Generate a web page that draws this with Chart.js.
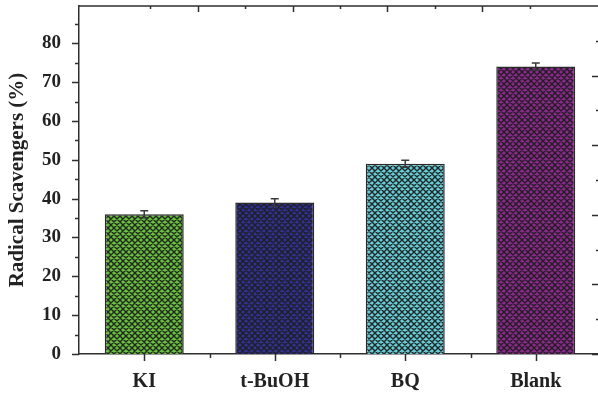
<!DOCTYPE html>
<html>
<head>
<meta charset="utf-8">
<script src="https://cdn.jsdelivr.net/npm/chart.js@4.4.1/dist/chart.umd.min.js"></script>
<style>
  html, body { margin: 0; padding: 0; background: #fff; overflow: hidden; width: 598px; height: 394px; }
  #wrap { width: 604px; height: 394px; }
</style>
</head>
<body>
<div id="wrap"><canvas id="c" width="604" height="394"></canvas></div>
<script>
const categories = ['KI', 't-BuOH', 'BQ', 'Blank'];
const values = [36, 39, 49, 74];
const errors = [0.9, 1.0, 0.9, 0.9];
const yTickValues = [0, 10, 20, 30, 40, 50, 60, 70, 80];
const barColors = ['#68c03c', '#30308f', '#66cdd6', '#8a288c'];
const yTitle = 'Radical Scavengers (%)';

const FONT = '"Liberation Serif", "DejaVu Serif", serif';
const AXIS = '#2f2f2f';

function hatch(color) {
  const size = 12;
  const c = document.createElement('canvas');
  c.width = size; c.height = size;
  const g = c.getContext('2d');
  g.fillStyle = color;
  g.fillRect(0, 0, size, size);
  g.strokeStyle = 'rgba(30,30,30,0.95)';
  g.lineWidth = 1.4;
  const p = 6;
  g.beginPath();
  for (let k = -4; k <= 6; k++) {
    const o = k * p;
    g.moveTo(o - 1, -1); g.lineTo(o + size + 1, size + 1);
    g.moveTo(o + size + 1, -1); g.lineTo(o - 1, size + 1);
  }
  g.stroke();
  return g.createPattern(c, 'repeat');
}

const frame = {
  id: 'frame',
  afterDatasetsDraw(chart) {
    const ctx = chart.ctx;
    const ys = chart.scales.y;
    const ds = chart.data.datasets[0];
    const meta = chart.getDatasetMeta(0);
    ctx.save();
    ctx.strokeStyle = '#3a3a3a';
    ctx.lineWidth = 1.5;
    meta.data.forEach((bar, i) => {
      const v = ds.data[i], e = errors[i];
      const yt = ys.getPixelForValue(v + e), yb = ys.getPixelForValue(v - e);
      ctx.beginPath();
      ctx.moveTo(bar.x, yt); ctx.lineTo(bar.x, yb);
      ctx.moveTo(bar.x - 4, yt); ctx.lineTo(bar.x + 4, yt);
      ctx.moveTo(bar.x - 4, yb); ctx.lineTo(bar.x + 4, yb);
      ctx.stroke();
    });
    ctx.restore();
  },
  afterDraw(chart) {
    const ctx = chart.ctx;
    const a = chart.chartArea;
    const ys = chart.scales.y, xs = chart.scales.x;
    const xt = chart.scales.xTop, yr = chart.scales.yRight;
    ctx.save();
    ctx.strokeStyle = AXIS;
    ctx.lineWidth = 1.5;
    ctx.beginPath();
    ctx.moveTo(a.left, a.top); ctx.lineTo(a.right, a.top);
    ctx.moveTo(a.right, a.top); ctx.lineTo(a.right, a.bottom);
    for (let v = 0; v <= 85; v += 5) {
      const y = Math.round(ys.getPixelForValue(v)) + 0.5;
      const len = v % 10 === 0 ? 7 : 4;
      ctx.moveTo(a.left - len, y); ctx.lineTo(a.left, y);
    }
    for (let i = 0; i < categories.length; i++) {
      const x = Math.round(xs.getPixelForValue(i)) + 0.5;
      ctx.moveTo(x, a.bottom); ctx.lineTo(x, a.bottom + 7);
      if (i < categories.length - 1) {
        const xm = Math.round(xs.getPixelForValue(i + 0.5)) + 0.5;
        ctx.moveTo(xm, a.bottom); ctx.lineTo(xm, a.bottom + 4);
      }
    }
    for (let v = 1; v <= 9; v++) {
      const x = Math.round(xt.getPixelForValue(v)) + 0.5;
      const len = v % 2 === 0 ? 6 : 3;
      ctx.moveTo(x, a.top); ctx.lineTo(x, a.top + len);
    }
    for (let v = 0; v <= 4.5; v += 0.5) {
      const y = Math.round(yr.getPixelForValue(v)) + 0.5;
      const len = Number.isInteger(v) ? 9 : 5;
      ctx.moveTo(a.right - len, y); ctx.lineTo(a.right, y);
    }
    ctx.stroke();
    ctx.restore();
  }
};

new Chart(document.getElementById('c'), {
  type: 'bar',
  data: {
    labels: categories,
    datasets: [{
      data: values,
      backgroundColor: barColors.map(hatch),
      borderColor: '#2a2a2a',
      borderWidth: 1.5,
      barPercentage: 0.605,
      categoryPercentage: 1
    }]
  },
  options: {
    responsive: false,
    animation: false,
    devicePixelRatio: 1,
    layout: { padding: { left: 0, top: 6, right: 3, bottom: 0 } },
    plugins: { legend: { display: false }, tooltip: { enabled: false } },
    scales: {
      x: {
        type: 'category',
        offset: true,
        grid: { display: false },
        border: { display: true, color: AXIS, width: 1.5 },
        ticks: { color: '#222', padding: 8, font: { family: FONT, weight: 'bold', size: 20 } },
        afterFit: s => { s.height = 40; s.paddingLeft = 0; s.paddingRight = 0; }
      },
      y: {
        min: 0,
        max: 89.6,
        grid: { display: false },
        border: { display: true, color: AXIS, width: 1.5 },
        afterBuildTicks: s => { s.ticks = yTickValues.map(v => ({ value: v })); },
        ticks: { color: '#222', padding: 10, font: { family: FONT, weight: 'bold', size: 19 } },
        title: { display: true, text: yTitle, color: '#222', padding: { top: 5, bottom: 0 }, font: { family: FONT, weight: 'bold', size: 21 } },
        afterFit: s => { s.width = 79; s.paddingTop = 0; s.paddingBottom = 0; }
      },
      xTop: { type: 'linear', position: 'top', display: false, min: 0, max: 10 },
      yRight: { type: 'linear', position: 'right', display: false, min: 0, max: 5 }
    }
  },
  plugins: [frame]
});
</script>
</body>
</html>
